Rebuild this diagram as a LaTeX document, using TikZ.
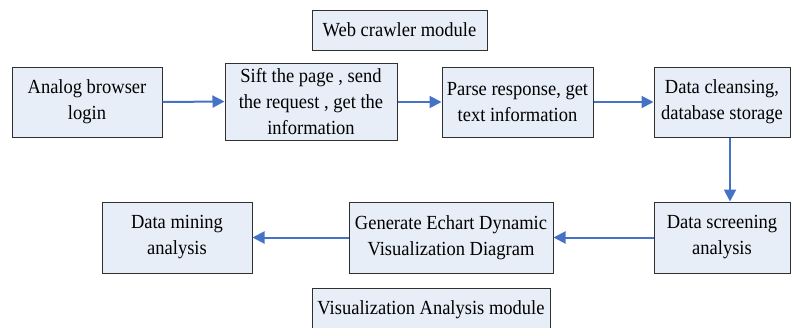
\documentclass[tikz,border=0pt]{standalone}
\usepackage{fontspec}
\setmainfont[FakeStretch=0.925]{Liberation Serif}
\usetikzlibrary{arrows.meta}
\definecolor{boxfill}{HTML}{E8EEF8}
\definecolor{boxline}{HTML}{303030}
\definecolor{arrowblue}{HTML}{4472C4}
\begin{document}
\begin{tikzpicture}[x=1pt,y=-1pt,
  procbox/.style={draw=boxline, fill=boxfill, line width=1pt, inner sep=0pt,
    align=center, font=\fontsize{20}{26}\selectfont, anchor=center},
  flow/.style={draw=arrowblue, line width=2pt,
    -{Triangle[length=12pt,width=12pt]}}]
\useasboundingbox (0,0) rectangle (794,327);
\begin{scope}
\clip (0,0) rectangle (794,327);
\node[procbox, minimum width=175pt, minimum height=40pt] (web) at (399.5,30) {Web crawler module};
\node[procbox, minimum width=150pt, minimum height=70pt] (analog) at (87,102) {Analog browser\\login};
\node[procbox, minimum width=172pt, minimum height=77pt] (sift) at (311,101.5) {Sift the page , send\\the request , get the\\information};
\node[procbox, minimum width=151pt, minimum height=70pt] (parse) at (517.5,102) {Parse response, get\\text information};
\node[procbox, minimum width=136pt, minimum height=70pt] (clean) at (722,102) {Data cleansing,\\database storage};
\node[procbox, minimum width=136pt, minimum height=71pt] (screen) at (722,237.5) {Data screening\\analysis};
\node[procbox, minimum width=204pt, minimum height=71pt] (gen) at (451,237.5) {Generate Echart Dynamic\\Visualization Diagram};
\node[procbox, minimum width=150pt, minimum height=71pt] (mine) at (177,237.5) {Data mining\\analysis};
\node[procbox, minimum width=238pt, minimum height=40pt, text depth=0pt] (vis) at (431,308) {Visualization Analysis module};
\end{scope}
\draw[flow] (analog.east) -- (sift.west);
\draw[flow] (sift.east |- analog.east) -- (parse.west);
\draw[flow] (parse.east) -- (clean.west);
\draw[flow] ([xshift=8pt]clean.south) -- ([xshift=8pt]screen.north);
\draw[flow] (screen.west) -- (gen.east);
\draw[flow] (gen.west) -- (mine.east);
\end{tikzpicture}
\end{document}
